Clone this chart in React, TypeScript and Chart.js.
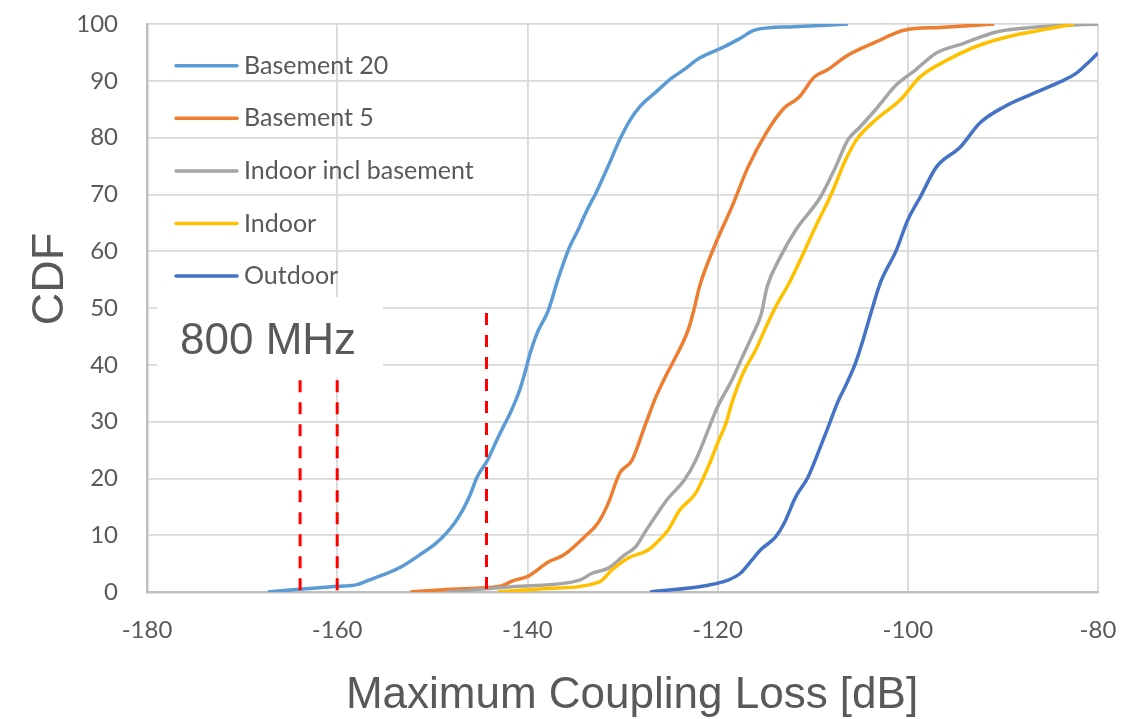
import React, { useEffect, useRef } from "react";
import { Chart, registerables } from "chart.js";

Chart.register(...registerables);

// ---- data ----
const xTickValues = [-180, -160, -140, -120, -100, -80];
const yTickValues = [0, 10, 20, 30, 40, 50, 60, 70, 80, 90, 100];

const seriesLabels = ["Basement 20", "Basement 5", "Indoor incl basement", "Indoor", "Outdoor"];
const seriesColors = ["#5B9BD5", "#ED7D31", "#A5A5A5", "#FFC000", "#4472C4"];

const basement20: number[][] = [
  [-167.3, 0], [-164, 0.5], [-160, 1.0], [-157.9, 1.3], [-156.8, 2.0], [-155.2, 3.0],
  [-153.2, 4.5], [-151.0, 6.9], [-149.6, 8.6], [-148.5, 10.4], [-147.6, 12.3], [-146.8, 14.4],
  [-146.0, 17.2], [-145.3, 20.2], [-144.2, 23.2], [-143.2, 26.8], [-142.5, 29.2], [-141.8, 31.5],
  [-140.8, 35.6], [-140.2, 39.0], [-139.7, 42.1], [-139.0, 45.5], [-137.8, 49.6], [-136.8, 55.0],
  [-135.7, 60.2], [-134.6, 64.0], [-133.8, 67.0], [-132.8, 70.2], [-131.5, 75.0], [-130.3, 79.6],
  [-129.3, 82.8], [-128.2, 85.4], [-126.5, 88.0], [-124.8, 90.5], [-123.5, 92.0], [-121.9, 94.0],
  [-119.3, 96.0], [-117.6, 97.5], [-116.0, 99.0], [-112.0, 99.5], [-106.3, 100],
];

const basement5: number[][] = [
  [-152.3, 0], [-148, 0.5], [-142.9, 1.0], [-141.5, 2.0], [-139.9, 2.8], [-137.8, 5.3],
  [-136.2, 6.5], [-134.0, 9.7], [-132.6, 12.1], [-131.5, 15.6], [-130.3, 20.9], [-129.0, 23.2],
  [-127.7, 29.0], [-126.5, 34.3], [-125.4, 38.2], [-124.4, 41.4], [-123.1, 46.1], [-122.5, 49.6],
  [-121.9, 53.8], [-120.2, 61.4], [-118.5, 67.8], [-116.8, 74.8], [-114.9, 80.8], [-113.0, 85.2],
  [-111.5, 87.0], [-109.8, 90.7], [-108.5, 91.9], [-106.3, 94.5], [-103.4, 96.8], [-100.4, 98.9],
  [-96.6, 99.4], [-90.9, 100],
];

const indoorInclBasement: number[][] = [
  [-148.5, 0], [-141, 1.0], [-134.5, 2.1], [-133.2, 3.3], [-131.5, 4.2], [-129.8, 6.5],
  [-128.6, 8.0], [-127.5, 10.9], [-126.1, 14.4], [-125.2, 16.5], [-123.5, 19.7], [-122.3, 23.2],
  [-121.0, 28.5], [-120.0, 32.6], [-118.5, 37.3], [-117.5, 41.0], [-116.4, 45.0], [-115.4, 49.0],
  [-114.8, 53.7], [-113.4, 59.0], [-111.8, 63.7], [-109.2, 69.5], [-107.6, 74.8], [-106.3, 79.6],
  [-105.0, 81.9], [-103.4, 84.9], [-101.2, 89.3], [-99.2, 91.9], [-97.0, 94.9], [-94.1, 96.6],
  [-90.7, 98.6], [-86.1, 99.5], [-80, 100],
];

const indoor: number[][] = [
  [-143.1, 0], [-138, 0.6], [-132.4, 1.8], [-131.1, 3.9], [-129.4, 6.0], [-127.3, 7.4],
  [-126.1, 9.2], [-125.2, 10.9], [-124.0, 14.4], [-122.3, 17.4], [-121.0, 22.0], [-120.0, 26.2],
  [-119.1, 29.8], [-118.5, 33.3], [-117.3, 38.6], [-116.0, 42.6], [-114.9, 46.7], [-113.8, 50.5],
  [-112.6, 54.0], [-111.8, 56.7], [-109.7, 64.3], [-108.0, 70.2], [-106.7, 75.5], [-105.4, 79.6],
  [-103.4, 83.1], [-100.8, 86.6], [-98.7, 90.7], [-95.8, 93.7], [-92.4, 96.3], [-88.6, 98.1],
  [-84.8, 99.3], [-82.5, 100],
];

const outdoor: number[][] = [
  [-127.1, 0], [-121.0, 1.2], [-118.9, 2.1], [-117.6, 3.3], [-116.4, 5.6], [-115.5, 7.4],
  [-113.9, 9.7], [-113.0, 12.1], [-111.8, 16.7], [-110.5, 20.2], [-109.2, 25.5], [-108.2, 29.8],
  [-107.4, 33.3], [-106.4, 36.8], [-105.5, 40.3], [-104.7, 44.4], [-103.9, 49.0], [-102.9, 54.4],
  [-101.2, 60.2], [-100.0, 65.5], [-98.7, 69.5], [-97.0, 74.8], [-94.5, 78.3], [-92.4, 82.6],
  [-89.9, 85.4], [-86.9, 87.7], [-84.0, 89.8], [-82.3, 91.3], [-81.1, 93.1], [-80.0, 94.9],
];

const seriesData = [basement20, basement5, indoorInclBasement, indoor, outdoor];

// red dashed reference markers
const markerX = [-163.9, -160.0, -144.3];
const markerTop = [37.3, 37.3, 49.1];

const bandLabel = "800 MHz";
const xTitle = "Maximum Coupling Loss [dB]";
const yTitle = "CDF";

const TEXT = "#595959";

function clearScalePadding(scale: any) {
  scale.paddingTop = 0;
  scale.paddingBottom = 0;
  scale.paddingLeft = 0;
  scale.paddingRight = 0;
}

export default function App() {
  const ref = useRef<HTMLCanvasElement | null>(null);

  useEffect(() => {
    document.body.style.margin = "0";
    const canvas = ref.current;
    if (!canvas) return;

    const datasets: any[] = seriesData.map((pts, i) => ({
      label: seriesLabels[i],
      data: pts.map(([x, y]) => ({ x, y })),
      borderColor: seriesColors[i],
      backgroundColor: seriesColors[i],
      borderWidth: 3.5,
      pointRadius: 0,
      cubicInterpolationMode: "monotone",
      fill: false,
      order: 5 - i,
    }));
    markerX.forEach((mx, i) => {
      datasets.push({
        label: "",
        isMarker: true,
        data: [
          { x: mx, y: markerTop[i] },
          { x: mx, y: 0 },
        ],
        borderColor: "#FF0000",
        borderWidth: 3,
        borderDash: [12, 10],
        pointRadius: 0,
        tension: 0,
        fill: false,
        order: 0,
      });
    });

    const boxPlugin = {
      id: "bandBox",
      beforeDatasetsDraw(chart: any) {
        const c = chart.ctx;
        c.save();
        c.fillStyle = "#ffffff";
        c.fillRect(157, 297, 226, 81);
        c.fillStyle = TEXT;
        c.font = '44px "Liberation Sans", Arial, sans-serif';
        c.textAlign = "left";
        c.textBaseline = "alphabetic";
        c.fillText(bandLabel, 180, 354);
        c.restore();
      },
    };

    const legendPlugin = {
      id: "insideLegend",
      afterDatasetsDraw(chart: any) {
        const c = chart.ctx;
        c.save();
        const ds = chart.data.datasets.filter((d: any) => !d.isMarker);
        ds.forEach((d: any, i: number) => {
          const y = 65.7 + i * 52.6;
          c.strokeStyle = d.borderColor;
          c.lineWidth = 3.5;
          c.lineCap = "round";
          c.beginPath();
          c.moveTo(176, y);
          c.lineTo(237, y);
          c.stroke();
          c.fillStyle = TEXT;
          c.font = '25px Lato, "Open Sans", sans-serif';
          c.textAlign = "left";
          c.textBaseline = "middle";
          c.fillText(d.label, 244, y);
        });
        c.restore();
      },
    };

    const titlePlugin = {
      id: "axisTitles",
      afterDraw(chart: any) {
        const c = chart.ctx;
        c.save();
        c.fillStyle = TEXT;
        c.font = '44px "Liberation Sans", Arial, sans-serif';
        c.textAlign = "center";
        c.textBaseline = "alphabetic";
        c.fillText(xTitle, 632, 708);
        c.translate(63, 279);
        c.rotate(-Math.PI / 2);
        c.font = '45px "Liberation Sans", Arial, sans-serif';
        c.fillText(yTitle, 0, 0);
        c.restore();
      },
    };

    const padding = { top: 24, right: 27, left: 0, bottom: 0 };

    const chart = new Chart(canvas, {
      type: "line",
      data: { datasets },
      options: {
        responsive: false,
        animation: false,
        layout: { padding },
        plugins: {
          legend: { display: false },
          tooltip: { enabled: false },
        },
        scales: {
          x: {
            type: "linear",
            min: xTickValues[0],
            max: xTickValues[xTickValues.length - 1],
            afterFit(scale: any) {
              scale.height = 127;
              clearScalePadding(scale);
            },
            afterBuildTicks(scale: any) {
              scale.ticks = xTickValues.map((v) => ({ value: v }));
            },
            grid: { color: "#d9d9d9", lineWidth: 1.8, drawTicks: false },
            border: { color: "#bfbfbf", width: 2.5 },
            ticks: {
              color: TEXT,
              padding: 24,
              font: { family: 'Lato, "Open Sans", sans-serif', size: 24 },
              maxRotation: 0,
            },
          },
          y: {
            type: "linear",
            min: yTickValues[0],
            max: yTickValues[yTickValues.length - 1],
            afterFit(scale: any) {
              scale.width = 147;
              clearScalePadding(scale);
            },
            afterBuildTicks(scale: any) {
              scale.ticks = yTickValues.map((v) => ({ value: v }));
            },
            grid: { color: "#d9d9d9", lineWidth: 1.8, drawTicks: false },
            border: { color: "#bfbfbf", width: 2.5 },
            ticks: {
              color: TEXT,
              padding: 29,
              font: { family: 'Lato, "Open Sans", sans-serif', size: 24 },
            },
          },
        },
      },
      plugins: [boxPlugin, legendPlugin, titlePlugin],
    } as any);

    return () => chart.destroy();
  }, []);

  return (
    <div style={{ width: 1125, height: 719 }}>
      <canvas ref={ref} width={1125} height={719} style={{ display: "block" }} />
    </div>
  );
}
